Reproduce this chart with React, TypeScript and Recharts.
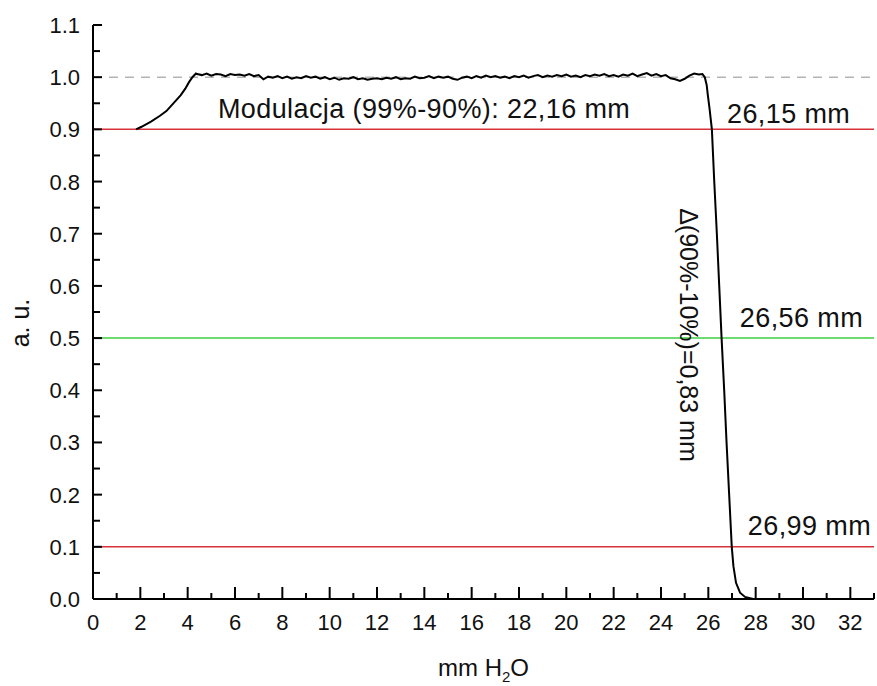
import { LineChart, Line, XAxis, YAxis, ReferenceLine, ReferenceDot } from 'recharts';

const FONT = "Arial, 'Liberation Sans', sans-serif";

// rising edge, from the 0.9 line up to the plateau
const riseEdge: [number, number][] = [
  [1.82, 0.9], [2.05, 0.905], [2.45, 0.915], [2.83, 0.926], [3.1, 0.935], [3.3, 0.945],
  [3.5, 0.955], [3.7, 0.965], [3.9, 0.978], [4.05, 0.99], [4.2, 1.0], [4.35, 1.007],
];

// noisy plateau around 1.0
const plateau: [number, number][] = [
  [4.4, 1.006], [4.6, 1.004], [4.8, 1.007], [5.0, 1.003], [5.2, 1.006], [5.4, 1.005],
  [5.6, 1.002], [5.8, 1.006], [6.0, 1.004], [6.2, 1.005], [6.4, 1.003], [6.6, 1.006],
  [6.8, 1.002], [7.0, 1.004], [7.2, 0.996], [7.4, 1.001], [7.6, 0.999], [7.8, 1.002],
  [8.0, 0.998], [8.2, 1.001], [8.4, 0.997], [8.6, 1.0], [8.8, 0.998], [9.0, 1.002],
  [9.2, 0.999], [9.4, 1.001], [9.6, 0.997], [9.8, 1.0], [10.0, 0.996], [10.2, 0.999],
  [10.4, 0.995], [10.6, 0.998], [10.8, 0.997], [11.0, 1.0], [11.2, 0.996], [11.4, 0.998],
  [11.6, 0.995], [11.8, 0.997], [12.0, 0.998], [12.2, 0.996], [12.4, 0.999], [12.6, 0.997],
  [12.8, 1.0], [13.0, 0.996], [13.2, 0.998], [13.4, 0.997], [13.6, 1.001], [13.8, 0.998],
  [14.0, 0.999], [14.2, 1.002], [14.4, 0.998], [14.6, 1.001], [14.8, 0.999], [15.0, 1.001],
  [15.2, 0.997], [15.4, 0.995], [15.6, 0.999], [15.8, 1.001], [16.0, 0.998], [16.2, 1.002],
  [16.4, 0.999], [16.6, 1.003], [16.8, 1.0], [17.0, 1.002], [17.2, 0.999], [17.4, 1.001],
  [17.6, 0.998], [17.8, 1.002], [18.0, 1.0], [18.2, 1.003], [18.4, 0.999], [18.6, 1.002],
  [18.8, 1.004], [19.0, 1.0], [19.2, 1.003], [19.4, 1.001], [19.6, 1.004], [19.8, 1.002],
  [20.0, 1.005], [20.2, 1.001], [20.4, 1.003], [20.6, 1.0], [20.8, 1.004], [21.0, 1.002],
  [21.2, 1.005], [21.4, 1.003], [21.6, 1.006], [21.8, 1.002], [22.0, 1.004], [22.2, 1.001],
  [22.4, 1.005], [22.6, 1.003], [22.8, 1.007], [23.0, 1.002], [23.2, 1.005], [23.4, 1.008],
  [23.6, 1.003], [23.8, 1.006], [24.0, 1.002], [24.2, 1.004], [24.4, 0.998], [24.6, 0.996],
  [24.8, 0.993], [25.0, 0.997], [25.2, 1.003], [25.4, 1.007], [25.6, 1.005],
];

// falling edge down to zero
const fallEdge: [number, number][] = [
  [25.75, 1.006], [25.85, 1.0], [25.93, 0.985], [25.98, 0.965], [26.05, 0.94], [26.1, 0.92],
  [26.15, 0.9], [26.25, 0.8], [26.36, 0.7], [26.46, 0.6], [26.56, 0.5], [26.67, 0.4],
  [26.77, 0.3], [26.88, 0.2], [26.99, 0.1], [27.06, 0.063], [27.17, 0.031], [27.34, 0.012],
  [27.55, 0.004], [27.9, 0],
];

const xTicks = [0, 1, 2, 3, 4, 5, 6, 7, 8, 9, 10, 11, 12, 13, 14, 15, 16, 17, 18, 19, 20, 21, 22, 23, 24, 25, 26, 27, 28, 29, 30, 31, 32, 33];
const yTicks = [0, 0.05, 0.1, 0.15, 0.2, 0.25, 0.3, 0.35, 0.4, 0.45, 0.5, 0.55, 0.6, 0.65, 0.7, 0.75, 0.8, 0.85, 0.9, 0.95, 1.0, 1.05, 1.1];

const data = [...riseEdge, ...plateau, ...fallEdge].map(([x, y]) => ({ x, y }));

const XTick = ({ x, y, payload }: any) => {
  const v = payload.value;
  const major = v % 2 === 0;
  return (
    <g>
      <line x1={x} x2={x} y1={y} y2={y - (major ? 12 : 6)} stroke="#000" strokeWidth={2} />
      {major && (
        <text x={x} y={y + 31} textAnchor="middle" fontSize={22} fontFamily={FONT} fill="#111">
          {v}
        </text>
      )}
    </g>
  );
};

const YTick = ({ x, y, payload }: any) => {
  const v = payload.value;
  const major = Math.round(v * 100) % 10 === 0;
  return (
    <g>
      <line x1={x} x2={x + (major ? 9 : 7)} y1={y} y2={y} stroke="#000" strokeWidth={2} />
      {major && (
        <text x={x - 13} y={y + 8} textAnchor="end" fontSize={22} fontFamily={FONT} fill="#111">
          {v.toFixed(1)}
        </text>
      )}
    </g>
  );
};

const XTitle = ({ viewBox }: any) => (
  <text x={viewBox.x + viewBox.width / 2} y={viewBox.y + 77} textAnchor="middle" fontSize={24} fontFamily={FONT} fill="#111">
    mm H<tspan fontSize={15} dy={6}>2</tspan><tspan dy={-6}>O</tspan>
  </text>
);

const YTitle = ({ viewBox }: any) => {
  const cx = viewBox.x + 20;
  const cy = viewBox.y + 298;
  return (
    <text x={cx} y={cy} textAnchor="middle" dominantBaseline="central" fontSize={25} fontFamily={FONT} fill="#111" transform={`rotate(-90 ${cx} ${cy})`}>
      a. u.
    </text>
  );
};

const Note = ({ viewBox, text, rotate }: any) => {
  const { x, y } = viewBox;
  return (
    <text
      x={x}
      y={y}
      textAnchor={rotate ? 'middle' : 'start'}
      dominantBaseline={rotate ? 'central' : undefined}
      fontSize={rotate ? 25 : 27}
      letterSpacing={rotate ? 0 : 0.4}
      fontFamily={FONT}
      fill="#111"
      transform={rotate ? `rotate(${rotate} ${x} ${y})` : undefined}
    >
      {text}
    </text>
  );
};

export default function App() {
  return (
    <div style={{ position: 'absolute', left: 0, top: 0, background: '#fff' }}>
      <LineChart width={877} height={686} data={data} margin={{ top: 25, right: 3, bottom: 0, left: 0 }}>
        <XAxis
          type="number"
          dataKey="x"
          domain={[0, 33]}
          ticks={xTicks}
          interval={0}
          height={87}
          tickSize={0}
          tickMargin={0}
          tickLine={false}
          tick={<XTick />}
          axisLine={{ stroke: '#000', strokeWidth: 2 }}
          label={<XTitle />}
        />
        <YAxis
          type="number"
          domain={[0, 1.1]}
          ticks={yTicks}
          interval={0}
          width={93}
          tickSize={0}
          tickMargin={0}
          tickLine={false}
          tick={<YTick />}
          axisLine={{ stroke: '#000', strokeWidth: 2 }}
          label={<YTitle />}
        />
        <ReferenceLine y={1.0} stroke="#b4b4b4" strokeWidth={1.5} strokeDasharray="9 7" />
        <ReferenceLine y={0.9} stroke="#d8323a" strokeWidth={1.5} />
        <ReferenceLine y={0.5} stroke="#3ecf3e" strokeWidth={1.5} />
        <ReferenceLine y={0.1} stroke="#d8323a" strokeWidth={1.5} />
        <Line type="linear" dataKey="y" stroke="#000" strokeWidth={2} dot={false} isAnimationActive={false} />
        <ReferenceDot x={5.28} y={0.922} r={0} fill="none" stroke="none" label={<Note text="Modulacja (99%-90%): 22,16 mm" />} />
        <ReferenceDot x={26.79} y={0.912} r={0} fill="none" stroke="none" label={<Note text="26,15 mm" />} />
        <ReferenceDot x={27.33} y={0.521} r={0} fill="none" stroke="none" label={<Note text="26,56 mm" />} />
        <ReferenceDot x={27.67} y={0.123} r={0} fill="none" stroke="none" label={<Note text="26,99 mm" />} />
        <ReferenceDot x={25.17} y={0.506} r={0} fill="none" stroke="none" label={<Note text="Δ(90%-10%)=0,83 mm" rotate={90} />} />
      </LineChart>
    </div>
  );
}
